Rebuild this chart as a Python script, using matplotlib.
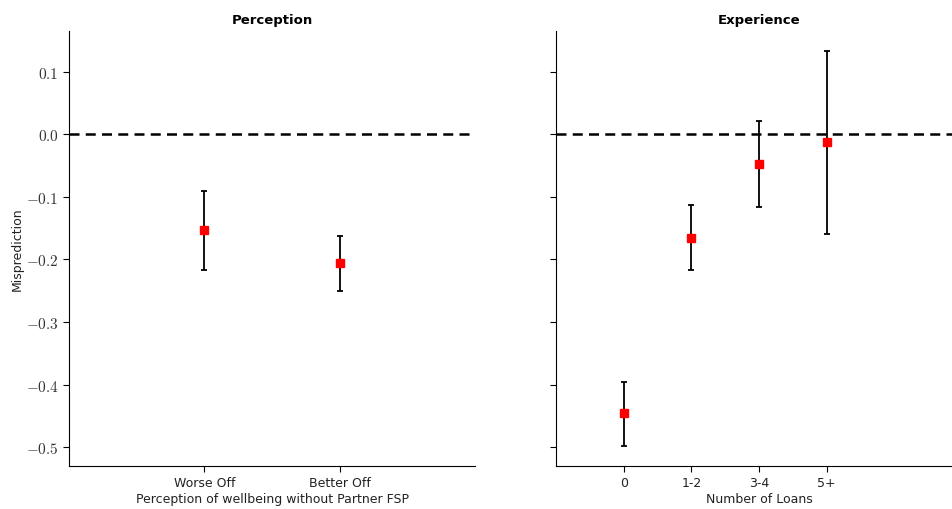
import numpy as np
import matplotlib
matplotlib.use("Agg")
import matplotlib.pyplot as plt
from matplotlib.ticker import FuncFormatter

plt.rcParams['mathtext.fontset'] = 'cm'
plt.rcParams['font.family'] = ['DejaVu Sans']

# Perception panel
perc_labels = ['Worse Off', 'Better Off']
perc_mean = [-0.153, -0.206]
perc_low = [-0.217, -0.251]
perc_high = [-0.091, -0.163]

# Experience panel
exp_labels = ['0', '1-2', '3-4', '5+']
exp_mean = [-0.446, -0.165, -0.048, -0.013]
exp_low = [-0.498, -0.217, -0.117, -0.160]
exp_high = [-0.395, -0.113, 0.021, 0.133]

yticks = [0.1, 0.0, -0.1, -0.2, -0.3, -0.4, -0.5]


def math_fmt(v, pos):
    s = '{:.1f}'.format(v)
    if s == '-0.0':
        s = '0.0'
    return '$' + s + '$'


def panel(ax, labels, mean, low, high, title, xlabel, xmax):
    x = np.arange(len(labels))
    mean = np.array(mean)
    yerr = [mean - np.array(low), np.array(high) - mean]
    ax.axhline(0, color='black', linestyle='--', linewidth=1.8, dashes=(4, 2.5), zorder=1)
    ax.errorbar(x, mean, yerr=yerr, fmt='none', ecolor='black', elinewidth=1.3,
                capsize=2.5, capthick=1.3, zorder=2)
    ax.plot(x, mean, 's', color='red', markersize=5.5, zorder=3)
    ax.set_xlim(-1, xmax)
    ax.set_ylim(-0.53, 0.165)
    ax.set_yticks(yticks)
    ax.tick_params(direction='out', length=4, width=0.8)
    ax.tick_params(axis='y', labelsize=11)
    ax.set_xticks(x)
    ax.set_xticklabels(labels, fontsize=9, color='#222222')
    ax.set_title(title, fontsize=9.5, fontweight='bold')
    ax.set_xlabel(xlabel, fontsize=9, labelpad=2, color='#222222')
    for s in ['top', 'right']:
        ax.spines[s].set_visible(False)


fig = plt.figure(figsize=(9.52, 5.10), dpi=100)
ax1 = fig.add_axes([0.0725, 0.0843, 0.4265, 0.853])
ax2 = fig.add_axes([0.584, 0.0843, 0.4265, 0.853])

panel(ax1, perc_labels, perc_mean, perc_low, perc_high, 'Perception',
      'Perception of wellbeing without Partner FSP', 2)
panel(ax2, exp_labels, exp_mean, exp_low, exp_high, 'Experience',
      'Number of Loans', 5)

ax1.yaxis.set_major_formatter(FuncFormatter(math_fmt))
for lab in ax1.get_yticklabels():
    lab.set_color('#333333')
ax1.set_ylabel('Misprediction', fontsize=9, color='#222222', labelpad=1)
ax2.set_yticklabels([])

plt.savefig('out.png', dpi=100)
plt.close()
